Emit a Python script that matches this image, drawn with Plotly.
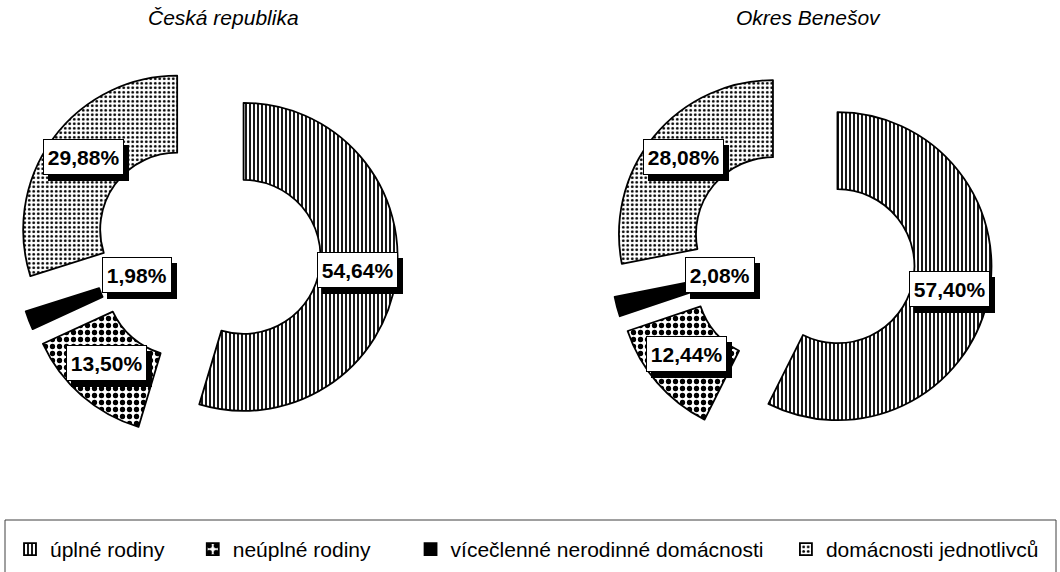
import math
import plotly.graph_objects as go

# ---------------- data ----------------
categories = ["úplné rodiny", "neúplné rodiny",
              "vícečlenné nerodinné domácnosti", "domácnosti jednotlivců"]
cr_values = [54.64, 13.50, 1.98, 29.88]
benesov_values = [57.40, 12.44, 2.08, 28.08]
chart_titles = ["Česká republika", "Okres Benešov"]

# ---------------- layout constants (pixels) ----------------
W, H = 1060, 572
CENTERS = [(207.0, 251.5), (801.5, 257.7)]   # pie centres before explosion
R = 154.0                                    # outer radius
PULL = 0.24
HOLE = 0.5
SMALL_LABEL_R = [0.25, 0.31]                 # label radius for tiny slice
LABEL_DY = -4
BOX_H = 28
TITLE_POS = [(223, 18), (808, 18)]
LEGEND_PAD = [4, 6, 3, 0]                    # nbsp padding to spread legend
FONT = "Arial, Liberation Sans, sans-serif"
FS = 21
EM = {",": 0.278, "%": 0.889}                # bold Arial advance widths (digits 0.556)

shapes_pat = ["|", ".", "", "."]
pat_size = [4, 7, 4, 4.5]
pat_solid = [0.45, 0.45, 0.0, 0.3]
slice_fill = ["white", "white", "black", "white"]

fig = go.Figure()
annotations = []


def fmt(v):
    return f"{v:.2f}".replace(".", ",") + "%"


def text_w(s):
    return sum(EM.get(c, 0.556) for c in s) * FS + 2


legend_labels = [c + "\u00a0" * p for c, p in zip(categories, LEGEND_PAD)]

for k, vals in enumerate([cr_values, benesov_values]):
    cx, cy = CENTERS[k]
    half = R * (1 + PULL)
    dom_x = [(cx - half) / W, (cx + half) / W]
    dom_y = [1 - (cy + half) / H, 1 - (cy - half) / H]
    fig.add_trace(go.Pie(
        labels=legend_labels, values=vals, sort=False,
        direction="clockwise", rotation=0, hole=HOLE,
        pull=[PULL] * len(vals), textinfo="none",
        domain=dict(x=dom_x, y=dom_y),
        marker=dict(colors=slice_fill,
                    line=dict(color="black", width=1.8),
                    pattern=dict(shape=shapes_pat, size=pat_size,
                                 solidity=pat_solid, fgcolor="black",
                                 bgcolor=slice_fill, fillmode="replace")),
        showlegend=(k == 0), hoverinfo="label+value",
    ))
    total = sum(vals)
    acc = 0.0
    for i, v in enumerate(vals):
        mid = 2 * math.pi * (acc + v / 2) / total
        acc += v
        dx, dy = math.sin(mid), -math.cos(mid)      # screen direction (y down)
        ex, ey = cx + PULL * R * dx, cy + PULL * R * dy
        rr = SMALL_LABEL_R[k] * R if v < 5 else (1 + HOLE) / 2 * R
        lx, ly = ex + rr * dx, ey + rr * dy + LABEL_DY
        txt = fmt(v)
        common = dict(x=lx / W, y=1 - ly / H, xref="paper", yref="paper",
                      xanchor="center", yanchor="middle", showarrow=False,
                      borderpad=3, borderwidth=1,
                      width=text_w(txt), height=BOX_H,
                      font=dict(family=FONT, size=FS, color="black"))
        # drop shadow (empty box)
        annotations.append(dict(**common, text="\u00a0", xshift=5, yshift=-6,
                                bgcolor="black", bordercolor="black"))
        annotations.append(dict(**common, text="<b>" + txt + "</b>",
                                bgcolor="white", bordercolor="black"))

for t, (tx, ty) in zip(chart_titles, TITLE_POS):
    annotations.append(dict(x=tx / W, y=1 - ty / H, xref="paper", yref="paper",
                            xanchor="center", yanchor="middle",
                            text="<i>" + t + "</i>", showarrow=False,
                            font=dict(family=FONT, size=21, color="black")))

fig.update_layout(
    width=W, height=H,
    margin=dict(l=0, r=0, t=0, b=0, autoexpand=False),
    paper_bgcolor="white", plot_bgcolor="white",
    annotations=annotations,
    shapes=[dict(type="rect", xref="paper", yref="paper",
                 x0=5 / W, x1=1056 / W, y0=-0.2, y1=1 - 520 / H,
                 line=dict(color="#404040", width=1), fillcolor="rgba(0,0,0,0)")],
    legend=dict(orientation="h", x=10 / W, y=1 - 529 / H,
                xanchor="left", yanchor="top",
                font=dict(family=FONT, size=FS, color="black"),
                bgcolor="rgba(0,0,0,0)", traceorder="normal"),
)

fig.write_html("out.html", config={"displayModeBar": False},
               post_script="document.body.style.margin='0';"
                           "document.body.style.overflow='hidden';")
